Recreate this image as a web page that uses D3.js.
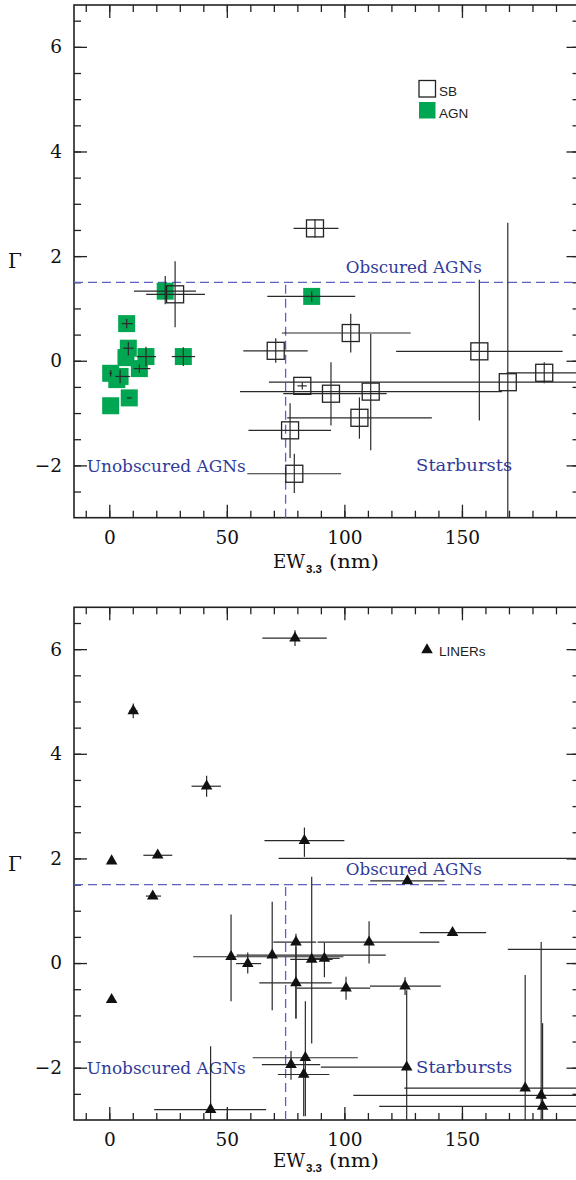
<!DOCTYPE html>
<html>
<head>
<meta charset="utf-8">
<script src="https://cdn.jsdelivr.net/npm/d3@7"></script>
<style>
  body { margin: 0; background: #fff; }
  svg { display: block; }
</style>
</head>
<body>
<div id="chart"></div>
<script>
// Values. Each row: [EW, Gamma, EW low, EW high, Gamma low, Gamma high]
const sbPoints = [
  [87.5, 2.53, 78.4, 97.5, 2.35, 2.71],
  [28.0, 1.27, 15.7, 40.7, 0.64, 1.90],
  [102.7, 0.53, 73.4, 128.2, 0.16, 0.90],
  [70.8, 0.19, 57.0, 84.4, -0.04, 0.43],
  [82.1, -0.48, 80.0, 84.0, -0.55, -0.41],
  [94.3, -0.63, 74.0, 118.0, -1.24, -0.03],
  [111.2, -0.59, 55.6, 167.0, -1.71, 0.51],
  [106.4, -1.09, 75.7, 137.2, -1.49, -0.70],
  [76.9, -1.33, 59.2, 94.3, -1.86, -0.81],
  [78.7, -2.16, 58.7, 98.6, -2.53, -1.78],
  [157.4, 0.18, 122.0, 192.8, -1.14, 1.55],
  [169.5, -0.41, 67.9, 215.0, -3.5, 2.64],
  [185.0, -0.23, 169.0, 215.0, -0.43, -0.03]
];
const agnPoints = [
  [23.8, 1.33, 10.5, 36.9, 1.08, 1.62],
  [7.4, 0.71, 5.3, 10.0, 0.62, 0.80],
  [8.1, 0.24, 6.0, 10.3, 0.10, 0.36],
  [7.1, 0.06, 7.1, 7.1, 0.06, 0.06],
  [15.6, 0.08, 11.7, 19.9, -0.11, 0.27],
  [12.8, -0.15, 10.4, 17.5, -0.23, -0.07],
  [0.6, -0.24, 0.0, 1.2, -0.30, -0.18],
  [3.2, -0.36, 3.2, 3.2, -0.36, -0.36],
  [4.6, -0.30, 2.6, 8.9, -0.43, -0.17],
  [8.5, -0.71, 7.5, 9.5, -0.71, -0.71],
  [0.6, -0.86, 0.6, 0.6, -0.86, -0.86],
  [31.5, 0.08, 26.6, 36.5, -0.10, 0.26],
  [86.1, 1.23, 67.2, 104.6, 1.13, 1.33]
];
const linerPoints = [
  [79.0, 6.21, 65.1, 92.5, 6.06, 6.36],
  [10.2, 4.82, 8.5, 12.0, 4.68, 4.96],
  [41.4, 3.38, 35.0, 47.5, 3.18, 3.58],
  [83.0, 2.34, 66.0, 100.0, 2.03, 2.59],
  [20.6, 2.06, 14.5, 26.8, 2.06, 2.06],
  [1.0, 1.95, 1.0, 1.0, 1.95, 1.95],
  [18.5, 1.28, 15.6, 22.0, 1.28, 1.28],
  [126.8, 1.57, 111.0, 142.6, 1.57, 1.57],
  [1.0, -0.70, 1.0, 1.0, -0.70, -0.70],
  [51.8, 0.12, 35.7, 99.6, -0.73, 0.93],
  [58.9, -0.01, 53.9, 64.6, -0.20, 0.20],
  [69.3, 0.15, 54.2, 117.6, -0.90, 1.17],
  [79.4, 0.40, 69.8, 88.0, -1.06, 0.56],
  [86.1, 0.07, 77.0, 95.0, -1.54, 1.65],
  [91.5, 0.09, 85.0, 98.0, -0.27, 0.39],
  [110.5, 0.40, 88.6, 140.4, -0.01, 0.80],
  [79.4, -0.38, 63.8, 94.6, -1.06, 0.31],
  [100.7, -0.48, 79.7, 111.0, -0.70, -0.26],
  [125.8, -0.44, 110.9, 141.0, -0.61, -0.27],
  [146.0, 0.58, 132.0, 160.3, 0.58, 0.58],
  [77.3, -1.94, 64.9, 89.7, -2.23, -1.68],
  [83.4, -1.81, 61.0, 105.7, -2.93, -0.73],
  [82.7, -2.13, 71.7, 93.6, -2.93, -1.80],
  [43.1, -2.80, 19.1, 66.7, -3.5, -1.59],
  [126.5, -1.99, 90.0, 126.5, -3.5, -0.52],
  [176.9, -2.39, 125.5, 215.0, -3.5, -0.23],
  [183.7, -2.53, 103.8, 215.0, -3.5, 0.40],
  [184.3, -2.74, 114.8, 215.0, -3.5, -1.15],
  [212.0, 2.00, 72.0, 240.0, 2.00, 2.00],
  [215.0, 0.26, 169.5, 240.0, 0.26, 0.26]
];

const xDomain = [-15, 200];
const yDomain = [-3, 6.8];
const xMajor = [0, 50, 100, 150];
const xMinor = d3.range(-10, 201, 10);
const yMajor = [-2, 0, 2, 4, 6];
const yMinor = d3.range(-2.5, 6.8, 0.5);
const gammaCut = 1.5;
const ewCut = 75;

const width = 576, height = 1180;
const left = 74, right = 579.5;
const ink = "#222";
const blue = "#5a62c2";
const textBlue = "#2f3b9a";
const green = "#00a651";
const serif = "'DejaVu Serif', serif";
const sans = "'Liberation Sans', sans-serif";

const svg = d3.select("#chart").append("svg")
  .attr("width", width).attr("height", height);

function drawPanel(id, top, bottom, titleY) {
  const x = d3.scaleLinear().domain(xDomain).range([left, right]);
  const y = d3.scaleLinear().domain(yDomain).range([bottom, top]);
  const g = svg.append("g");

  svg.append("clipPath").attr("id", "clip" + id)
    .append("rect").attr("x", left).attr("y", top)
    .attr("width", right - left).attr("height", bottom - top);

  // ticks: major with labels, minor without, all pointing inwards
  const axes = [
    [d3.axisBottom(x).tickValues(xMajor).tickSize(-13).tickPadding(13), bottom, "x"],
    [d3.axisBottom(x).tickValues(xMinor).tickSize(-7).tickFormat(""), bottom, "x"],
    [d3.axisTop(x).tickValues(xMajor).tickSize(-13).tickFormat(""), top, "x"],
    [d3.axisTop(x).tickValues(xMinor).tickSize(-7).tickFormat(""), top, "x"],
    [d3.axisLeft(y).tickValues(yMajor).tickSize(-13).tickPadding(12), left, "y"],
    [d3.axisLeft(y).tickValues(yMinor).tickSize(-7).tickFormat(""), left, "y"],
    [d3.axisRight(y).tickValues(yMajor).tickSize(-13).tickFormat(""), right, "y"],
    [d3.axisRight(y).tickValues(yMinor).tickSize(-7).tickFormat(""), right, "y"]
  ];
  axes.forEach(([ax, pos, dir]) => {
    const a = g.append("g")
      .attr("transform", dir === "x" ? `translate(0,${pos})` : `translate(${pos},0)`)
      .call(ax);
    a.select(".domain").remove();
    a.selectAll("line").attr("stroke", ink).attr("stroke-width", 1.3);
    a.attr("font-family", serif).attr("font-size", 18.5);
    a.selectAll("text").attr("fill", "#111");
  });

  g.append("rect").attr("x", left).attr("y", top)
    .attr("width", right - left).attr("height", bottom - top)
    .attr("fill", "none").attr("stroke", ink).attr("stroke-width", 1.6);

  // axis titles
  g.append("text").attr("x", 273).attr("y", titleY)
    .attr("textLength", 32).attr("lengthAdjust", "spacingAndGlyphs")
    .attr("fill", "#111").attr("font-family", serif).attr("font-size", 19).text("EW");
  g.append("text").attr("x", 306).attr("y", titleY + 5)
    .attr("fill", "#111").attr("font-family", sans).attr("font-weight", "bold")
    .attr("font-size", 11.5).text("3.3");
  g.append("text").attr("x", 329).attr("y", titleY)
    .attr("textLength", 50).attr("lengthAdjust", "spacingAndGlyphs")
    .attr("fill", "#111").attr("font-family", serif).attr("font-size", 19).text("(nm)");

  g.append("text").attr("x", 15).attr("y", (top + bottom) / 2 + 7)
    .attr("text-anchor", "middle").attr("fill", "#111")
    .attr("font-family", serif).attr("font-size", 20).text("Γ");

  // region boundaries
  const dash = g.append("g").attr("stroke", blue).attr("stroke-width", 1.3)
    .attr("stroke-dasharray", "9,5").attr("fill", "none");
  dash.append("line").attr("x1", left).attr("x2", right)
    .attr("y1", y(gammaCut)).attr("y2", y(gammaCut));
  dash.append("line").attr("x1", x(ewCut)).attr("x2", x(ewCut))
    .attr("y1", bottom).attr("y2", y(gammaCut));

  const label = (txt, ew, gam, len) => g.append("text")
    .attr("x", x(ew)).attr("y", y(gam))
    .attr("textLength", len).attr("lengthAdjust", "spacingAndGlyphs")
    .attr("fill", textBlue)
    .attr("font-family", serif).attr("font-size", 16.5).text(txt);
  label("Obscured AGNs", 100.6, 1.68, 136);
  label("Unobscured AGNs", -9.6, -2.12, 159);
  label("Starbursts", 130.5, -2.11, 96);

  const data = g.append("g").attr("clip-path", `url(#clip${id})`);
  return { x, y, g, data };
}

function errorBars(layer, pts, x, y) {
  const eb = layer.append("g").attr("stroke", "#2a2a2a").attr("stroke-width", 1.2);
  eb.selectAll(".h").data(pts.filter(d => d[3] > d[2])).join("line")
    .attr("x1", d => x(d[2])).attr("x2", d => x(d[3]))
    .attr("y1", d => y(d[1])).attr("y2", d => y(d[1]));
  eb.selectAll(".v").data(pts.filter(d => d[5] > d[4])).join("line")
    .attr("x1", d => x(d[0])).attr("x2", d => x(d[0]))
    .attr("y1", d => y(d[4])).attr("y2", d => y(d[5]));
}

const sq = 17;

// top panel
const p1 = drawPanel(1, 5, 517.7, 568);
p1.data.append("g").selectAll("rect").data(agnPoints).join("rect")
  .attr("x", d => p1.x(d[0]) - sq / 2).attr("y", d => p1.y(d[1]) - sq / 2)
  .attr("width", sq).attr("height", sq).attr("fill", green);
p1.data.append("g").selectAll("rect").data(sbPoints).join("rect")
  .attr("x", d => p1.x(d[0]) - sq / 2).attr("y", d => p1.y(d[1]) - sq / 2)
  .attr("width", sq).attr("height", sq)
  .attr("fill", "none").attr("stroke", ink).attr("stroke-width", 1.3);
errorBars(p1.data, agnPoints, p1.x, p1.y);
errorBars(p1.data, sbPoints, p1.x, p1.y);

// top legend
p1.g.append("rect").attr("x", 419).attr("y", 80.5).attr("width", 16.5).attr("height", 16.5)
  .attr("fill", "none").attr("stroke", ink).attr("stroke-width", 1.3);
p1.g.append("rect").attr("x", 419).attr("y", 102).attr("width", 16.5).attr("height", 16.5)
  .attr("fill", green);
p1.g.append("text").attr("x", 439).attr("y", 96).text("SB")
  .attr("fill", "#222").attr("font-family", sans).attr("font-size", 13.5);
p1.g.append("text").attr("x", 439).attr("y", 117.5).text("AGN")
  .attr("fill", "#222").attr("font-family", sans).attr("font-size", 13.5);

// bottom panel
const p2 = drawPanel(2, 607.3, 1120, 1167);
errorBars(p2.data, linerPoints, p2.x, p2.y);
const tri = d3.symbol(d3.symbolTriangle).size(58);
p2.data.append("g").selectAll("path").data(linerPoints).join("path")
  .attr("transform", d => `translate(${p2.x(d[0])},${p2.y(d[1])})`)
  .attr("d", tri).attr("fill", "#111");

// bottom legend
p2.g.append("path").attr("transform", "translate(427,650)").attr("d", tri).attr("fill", "#111");
p2.g.append("text").attr("x", 439).attr("y", 656).text("LINERs")
  .attr("fill", "#222").attr("font-family", sans).attr("font-size", 13.5);
</script>
</body>
</html>
